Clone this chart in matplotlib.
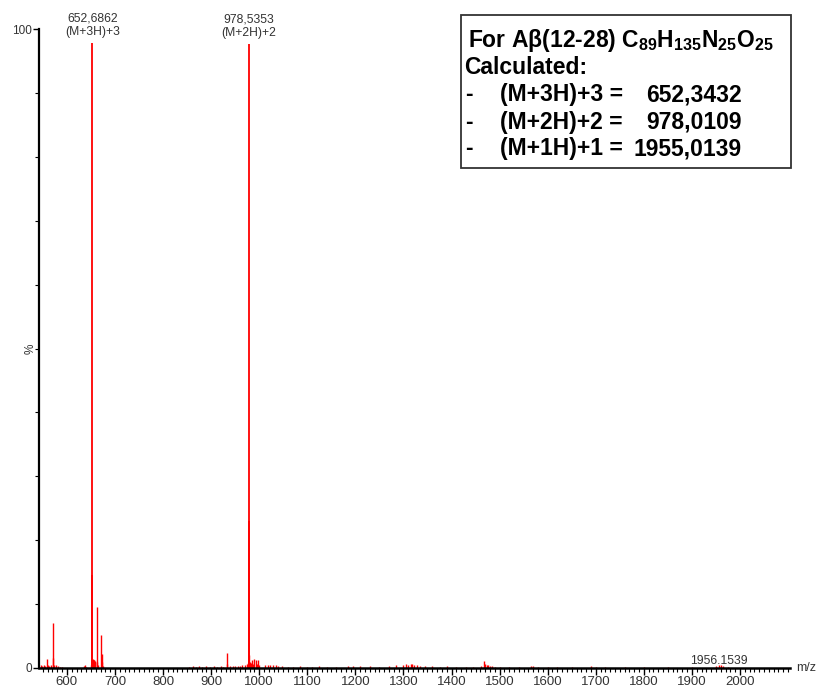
import matplotlib
matplotlib.use("Agg")
import matplotlib.pyplot as plt
from matplotlib.ticker import MultipleLocator, FixedLocator

plt.rcParams['font.family'] = ['Liberation Sans', 'DejaVu Sans']
plt.rcParams['mathtext.fontset'] = 'custom'
plt.rcParams['mathtext.rm'] = 'Liberation Sans:bold'
plt.rcParams['mathtext.it'] = 'Liberation Sans:bold'
plt.rcParams['mathtext.bf'] = 'Liberation Sans:bold'

# Main ion peaks (m/z, relative intensity %)
main_mz = [652.6862, 653.02, 978.5353, 979.03]
main_int = [97.8, 14.5, 97.6, 23.0]

# Minor peaks and baseline noise (m/z, relative intensity %)
minor_mz = [546, 549, 552, 555, 557.8, 561, 563, 566, 570.3, 571.0, 574, 577, 581, 586, 590,
            636, 638, 640,
            650.5, 651.2, 653.4, 654, 655, 656, 657, 658, 659.5, 661.8, 662.4, 664, 671.4, 672.0, 673.4, 675,
            855, 862, 868, 875, 882, 890, 897, 905, 912, 920, 925, 932.2, 934, 940, 945, 950, 955, 960,
            965, 970, 974, 976, 979.6, 981, 983, 985, 988, 990, 993, 995, 998, 1000,
            1012, 1018, 1022, 1028, 1035, 1040, 1048, 1060, 1070, 1085, 1100, 1110, 1125, 1140, 1160,
            1185, 1195, 1210, 1230, 1250, 1270, 1285, 1300, 1305, 1310, 1315, 1318, 1322, 1328, 1335,
            1345, 1360, 1375, 1390, 1410, 1430, 1445, 1462, 1468, 1470, 1473, 1476, 1480, 1485, 1490,
            1500, 1520, 1540, 1565, 1570, 1580, 1600, 1620, 1650, 1690, 1700, 1720, 1760, 1800, 1850,
            1900, 1950, 1956.1539, 1960, 1965, 1975]
minor_int = [0.4, 0.3, 0.5, 0.3, 1.4, 0.4, 0.3, 0.5, 7.0, 1.6, 0.5, 0.4, 0.3, 0.2, 0.2,
             0.3, 0.4, 0.2,
             0.5, 1.2, 1.3, 1.4, 1.3, 1.2, 1.2, 1.1, 1.0, 9.5, 1.0, 0.5, 5.2, 1.0, 2.2, 0.3,
             0.2, 0.3, 0.2, 0.3, 0.2, 0.3, 0.2, 0.3, 0.2, 0.3, 0.2, 2.3, 0.6, 0.3, 0.3, 0.3, 0.3, 0.3,
             0.4, 0.5, 0.6, 0.8, 2.0, 1.0, 0.8, 1.2, 0.7, 1.4, 1.2, 0.6, 1.3, 0.5,
             0.4, 0.5, 0.5, 0.4, 0.4, 0.3, 0.3, 0.2, 0.2, 0.3, 0.2, 0.2, 0.3, 0.2, 0.2,
             0.3, 0.3, 0.3, 0.3, 0.2, 0.3, 0.4, 0.4, 0.6, 0.5, 0.7, 0.6, 0.5, 0.4, 0.3,
             0.3, 0.3, 0.2, 0.3, 0.2, 0.2, 0.2, 0.3, 1.1, 0.6, 0.4, 0.4, 0.3, 0.3, 0.2,
             0.2, 0.2, 0.2, 0.3, 0.3, 0.2, 0.2, 0.2, 0.2, 0.3, 0.2, 0.2, 0.2, 0.2, 0.2,
             0.2, 0.3, 0.5, 0.4, 0.3, 0.2]

# Peak annotations
label_mz = [652.6862, 978.5353, 1956.1539]
label_int = [97.8, 97.6, 0.5]
label_text = ["652,6862\n(M+3H)+3", "978,5353\n(M+2H)+2", "1956.1539"]

# Calculated values shown in the box
box_title = r"For Aβ(12-28) C$_{89}$H$_{135}$N$_{25}$O$_{25}$"
box_sub = "Calculated:"
calc_ions = ["(M+3H)+3 =", "(M+2H)+2 =", "(M+1H)+1 ="]
calc_values = ["652,3432", "978,0109", "1955,0139"]

fig = plt.figure(figsize=(8.19, 6.90), dpi=100)
ax = fig.add_axes([39 / 819, 1 - 668 / 690, (790 - 39) / 819, (668 - 29) / 690])

red = '#ff0000'
ax.vlines(minor_mz, 0, minor_int, colors=red, linewidth=1.0)
ax.vlines(main_mz, 0, main_int, colors=red, linewidth=1.3)

ax.set_xlim(542, 2104)
ax.set_ylim(0, 100)

for s in ['top', 'right']:
    ax.spines[s].set_visible(False)
ax.spines['left'].set_linewidth(1.6)
ax.spines['bottom'].set_linewidth(1.8)

ax.xaxis.set_major_locator(FixedLocator(list(range(600, 2001, 100))))
ax.xaxis.set_minor_locator(MultipleLocator(10))
ax.yaxis.set_major_locator(FixedLocator([0, 100]))
ax.yaxis.set_minor_locator(FixedLocator(list(range(10, 100, 10))))

ax.tick_params(axis='x', which='major', length=5, width=1.0, pad=1, labelsize=9.5,
               labelcolor='#333333', direction='out')
ax.tick_params(axis='x', which='minor', length=3, width=0.8, direction='out')
ax.tick_params(axis='y', which='major', length=4, width=1.0, pad=1, labelsize=8.5,
               labelcolor='#333333', direction='out')
ax.tick_params(axis='y', which='minor', length=3, width=0.8, direction='out')

ax.text(-8 / 751, 0.5, '%', transform=ax.transAxes, fontsize=8.5, color='#333333',
        rotation=90, ha='center', va='center')
ax.text(1.008, 0.0, 'm/z', transform=ax.transAxes, fontsize=9, color='#333333',
        ha='left', va='center')

for mz, it, txt in zip(label_mz, label_int, label_text):
    ax.annotate(txt, xy=(mz, it), xytext=(0, 4 if it > 50 else -1.5),
                textcoords='offset points', ha='center', va='bottom', fontsize=8.7,
                color='#333333', linespacing=1.15, annotation_clip=False)

# Boxed summary of calculated masses
box = plt.Rectangle((461 / 819, 1 - 168 / 690), (791 - 461) / 819, (168 - 15) / 690,
                    transform=fig.transFigure, fill=False, edgecolor='#333333',
                    linewidth=1.3)
fig.patches.append(box)

fs = 16.5
fig.text(468 / 819, 1 - 41 / 690, box_title, fontsize=fs, fontweight='bold',
         ha='left', va='center')
fig.text(464 / 819, 1 - 67 / 690, box_sub, fontsize=fs, fontweight='bold',
         ha='left', va='center')
line_y = [95, 122, 149]
for y, ion, val in zip(line_y, calc_ions, calc_values):
    fig.text(465 / 819, 1 - y / 690, '-', fontsize=fs, fontweight='bold',
             ha='left', va='center')
    fig.text(500 / 819, 1 - y / 690, ion, fontsize=fs, fontweight='bold',
             ha='left', va='center')
    fig.text(742 / 819, 1 - y / 690, val, fontsize=fs, fontweight='bold',
             ha='right', va='center')

fig.savefig('out.png', dpi=100)
